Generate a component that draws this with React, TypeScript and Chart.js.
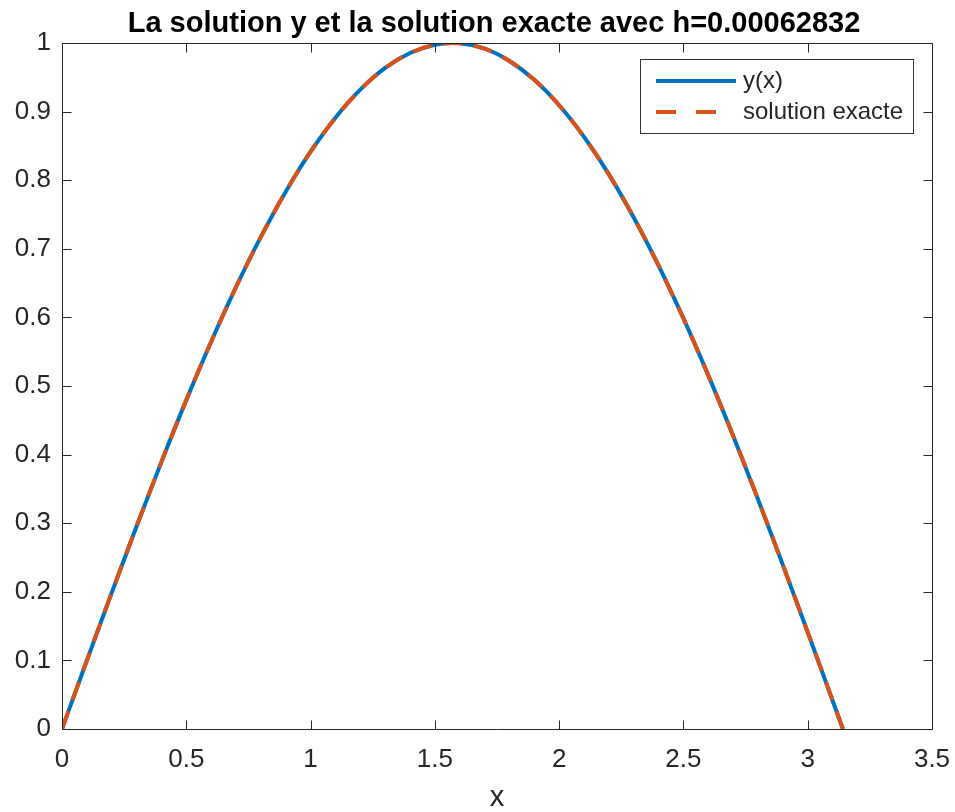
import React, { useEffect, useRef } from 'react';
import { Chart, registerables } from 'chart.js';

Chart.register(...registerables);

const TITLE = 'La solution y et la solution exacte avec h=0.00062832';
const X_LABEL = 'x';
const SERIES_NAMES = ['y(x)', 'solution exacte'];

const xValues = [
  0, 0.1, 0.2, 0.3, 0.4, 0.5, 0.6, 0.7, 0.8, 0.9, 1.0, 1.1, 1.2, 1.3, 1.4, 1.5,
  1.5708, 1.6, 1.7, 1.8, 1.9, 2.0, 2.1, 2.2, 2.3, 2.4, 2.5, 2.6, 2.7, 2.8, 2.9,
  3.0, 3.1, 3.1416,
];
const yApprox = [
  0, 0.0998, 0.1987, 0.2955, 0.3894, 0.4794, 0.5646, 0.6442, 0.7174, 0.7833,
  0.8415, 0.8912, 0.932, 0.9636, 0.9854, 0.9975, 1.0, 0.9996, 0.9917, 0.9738,
  0.9463, 0.9093, 0.8632, 0.8085, 0.7457, 0.6755, 0.5985, 0.5155, 0.4274,
  0.335, 0.2392, 0.1411, 0.0416, 0,
];
const yExact = [
  0, 0.0998, 0.1987, 0.2955, 0.3894, 0.4794, 0.5646, 0.6442, 0.7174, 0.7833,
  0.8415, 0.8912, 0.932, 0.9636, 0.9854, 0.9975, 1.0, 0.9996, 0.9917, 0.9738,
  0.9463, 0.9093, 0.8632, 0.8085, 0.7457, 0.6755, 0.5985, 0.5155, 0.4274,
  0.335, 0.2392, 0.1411, 0.0416, 0,
];
const xTicks = [0, 0.5, 1, 1.5, 2, 2.5, 3, 3.5];
const yTicks = [0, 0.1, 0.2, 0.3, 0.4, 0.5, 0.6, 0.7, 0.8, 0.9, 1];

const BLUE = '#0072BD';
const ORANGE = '#D95319';
const AXIS = '#262626';
const FONT = '"Liberation Sans", Arial, Helvetica, sans-serif';
const DASH = [19, 12];

export default function App() {
  const ref = useRef<HTMLCanvasElement>(null);

  useEffect(() => {
    document.body.style.margin = '0';
    const canvas = ref.current;
    if (!canvas) return;

    const matlabPlugin = {
      id: 'matlabDecor',
      afterDraw(chart: any) {
        const { ctx, chartArea: a, scales } = chart;
        ctx.save();
        ctx.strokeStyle = AXIS;
        ctx.lineWidth = 1;
        const L = Math.round(a.left) + 0.5;
        const R = Math.round(a.right) + 0.5;
        const T = Math.round(a.top) + 0.5;
        const B = Math.round(a.bottom) + 0.5;
        ctx.beginPath();
        ctx.rect(L, T, R - L, B - T);
        const tl = 9;
        for (const v of xTicks) {
          const px = Math.round(scales.x.getPixelForValue(v)) + 0.5;
          ctx.moveTo(px, B);
          ctx.lineTo(px, B - tl);
          ctx.moveTo(px, T);
          ctx.lineTo(px, T + tl);
        }
        for (const v of yTicks) {
          const py = Math.round(scales.y.getPixelForValue(v)) + 0.5;
          ctx.moveTo(L, py);
          ctx.lineTo(L + tl, py);
          ctx.moveTo(R, py);
          ctx.lineTo(R - tl, py);
        }
        ctx.stroke();

        // title
        const cx = (a.left + a.right) / 2;
        ctx.fillStyle = '#000';
        ctx.font = `bold 29px ${FONT}`;
        ctx.textAlign = 'center';
        ctx.textBaseline = 'alphabetic';
        ctx.fillText(TITLE, cx - 3, 32);

        // x label
        ctx.fillStyle = AXIS;
        ctx.font = `29px ${FONT}`;
        ctx.fillText(X_LABEL, cx, 806);

        // legend
        const lx = a.right - 292;
        const ly = a.top + 16;
        const lw = 273;
        const lh = 74;
        ctx.fillStyle = '#fff';
        ctx.fillRect(lx, ly, lw, lh);
        ctx.strokeStyle = '#333';
        ctx.lineWidth = 1;
        ctx.strokeRect(Math.round(lx) + 0.5, Math.round(ly) + 0.5, lw, lh);

        const row1 = ly + 22;
        const row2 = ly + 53;
        ctx.lineWidth = 4;
        ctx.strokeStyle = BLUE;
        ctx.beginPath();
        ctx.moveTo(lx + 16, row1);
        ctx.lineTo(lx + 96, row1);
        ctx.stroke();
        ctx.strokeStyle = ORANGE;
        ctx.setLineDash([20, 20]);
        ctx.beginPath();
        ctx.moveTo(lx + 16, row2);
        ctx.lineTo(lx + 96, row2);
        ctx.stroke();
        ctx.setLineDash([]);

        ctx.fillStyle = AXIS;
        ctx.font = `24px ${FONT}`;
        ctx.textAlign = 'left';
        ctx.textBaseline = 'middle';
        ctx.fillText(SERIES_NAMES[0], lx + 103, row1);
        ctx.fillText(SERIES_NAMES[1], lx + 103, row2);
        ctx.restore();
      },
    };

    const toPts = (ys: number[]) => xValues.map((x, i) => ({ x, y: ys[i] }));

    const chart = new Chart(canvas, {
      type: 'line',
      data: {
        datasets: [
          {
            label: SERIES_NAMES[0],
            data: toPts(yApprox),
            borderColor: BLUE,
            borderWidth: 4,
            pointRadius: 0,
            cubicInterpolationMode: 'monotone',
            fill: false,
            order: 2,
          },
          {
            label: SERIES_NAMES[1],
            data: toPts(yExact),
            borderColor: ORANGE,
            borderWidth: 4,
            borderDash: DASH,
            pointRadius: 0,
            cubicInterpolationMode: 'monotone',
            fill: false,
            order: 1,
          },
        ],
      },
      options: {
        responsive: false,
        animation: false,
        layout: { padding: { top: 43, right: 23, left: 0, bottom: 0 } },
        plugins: {
          legend: { display: false },
          title: { display: false },
          tooltip: { enabled: false },
        },
        scales: {
          x: {
            type: 'linear',
            min: 0,
            max: 3.5,
            afterBuildTicks: (s: any) => {
              s.ticks = xTicks.map((v) => ({ value: v }));
            },
            afterFit: (s: any) => {
              s.height = 83;
              s.paddingRight = 0;
              s.paddingLeft = 0;
            },
            grid: { display: false, drawTicks: false },
            border: { display: false },
            ticks: {
              color: AXIS,
              font: { family: FONT, size: 26 },
              padding: 15,
              maxRotation: 0,
              autoSkip: false,
              callback: (v: any) => String(v),
            },
          },
          y: {
            type: 'linear',
            min: 0,
            max: 1,
            afterBuildTicks: (s: any) => {
              s.ticks = yTicks.map((v) => ({ value: v }));
            },
            afterFit: (s: any) => {
              s.width = 62;
              s.paddingTop = 0;
              s.paddingBottom = 0;
            },
            grid: { display: false, drawTicks: false },
            border: { display: false },
            ticks: {
              color: AXIS,
              font: { family: FONT, size: 26 },
              padding: 11,
              autoSkip: false,
              callback: (v: any) => String(Math.round(v * 10) / 10),
            },
          },
        },
      },
      plugins: [matlabPlugin],
    } as any);

    return () => chart.destroy();
  }, []);

  return <canvas ref={ref} width={955} height={812} style={{ display: 'block' }} />;
}
